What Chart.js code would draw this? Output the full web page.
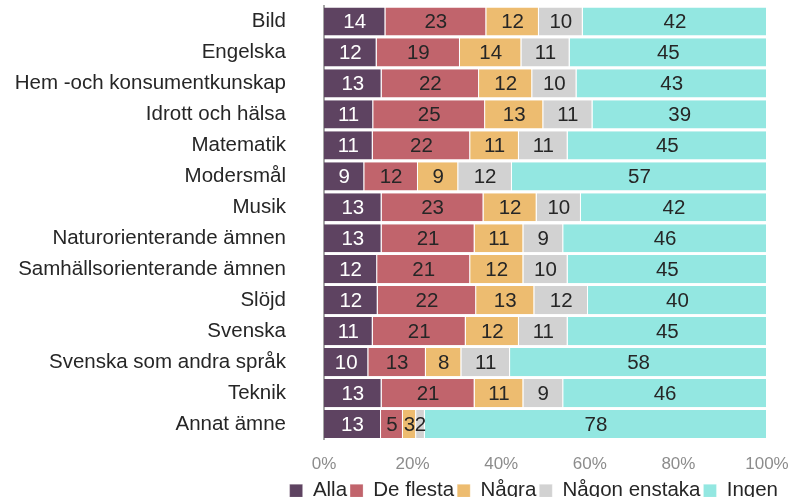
<!DOCTYPE html>
<html>
<head>
<meta charset="utf-8">
<script src="https://cdn.jsdelivr.net/npm/chart.js@4/dist/chart.umd.min.js"></script>
<style>
  html, body { margin: 0; padding: 0; background: #fff; }
  #wrap { width: 800px; height: 497px; }
</style>
</head>
<body>
<div id="wrap"><canvas id="chart"></canvas></div>
<script>
// Ämnen (kategorier)
const subjects = [
    'Bild', 'Engelska', 'Hem -och konsumentkunskap', 'Idrott och hälsa',
    'Matematik', 'Modersmål', 'Musik', 'Naturorienterande ämnen',
    'Samhällsorienterande ämnen', 'Slöjd', 'Svenska',
    'Svenska som andra språk', 'Teknik', 'Annat ämne'
];

// Andelar i procent per svarsalternativ
const alla         = [14, 12, 13, 11, 11,  9, 13, 13, 12, 12, 11, 10, 13, 13];
const deFlesta     = [23, 19, 22, 25, 22, 12, 23, 21, 21, 22, 21, 13, 21,  5];
const nagra        = [12, 14, 12, 13, 11,  9, 12, 11, 12, 13, 12,  8, 11,  3];
const nagonEnstaka = [10, 11, 10, 11, 11, 12, 10,  9, 10, 12, 11, 11,  9,  2];
const ingen        = [42, 45, 43, 39, 45, 57, 42, 46, 45, 40, 45, 58, 46, 78];

const xTicks = [0, 20, 40, 60, 80, 100];

const series = [
    { label: 'Alla',          values: alla,         color: '#5e4361', text: '#ffffff' },
    { label: 'De flesta',     values: deFlesta,     color: '#c1646c', text: '#262626' },
    { label: 'Några',         values: nagra,        color: '#edbc70', text: '#262626' },
    { label: 'Någon enstaka', values: nagonEnstaka, color: '#d2d2d2', text: '#262626' },
    { label: 'Ingen',         values: ingen,        color: '#93e7e1', text: '#262626' }
];

// 100 % staplat: normalisera varje rad så att den når 100
const totals = subjects.map((_, i) => series.reduce((s, d) => s + d.values[i], 0));

const FONT = 'Liberation Sans, Arial, sans-serif';
const FS = 20.5;

// Etiketter mitt i varje segment
const segmentLabels = {
    id: 'segmentLabels',
    afterDatasetsDraw(chart) {
        const ctx = chart.ctx;
        ctx.save();
        ctx.font = FS + 'px ' + FONT;
        ctx.textAlign = 'center';
        ctx.textBaseline = 'middle';
        chart.data.datasets.forEach((ds, di) => {
            const meta = chart.getDatasetMeta(di);
            meta.data.forEach((bar, i) => {
                const c = bar.getCenterPoint();
                ctx.fillStyle = series[di].text;
                ctx.fillText(String(series[di].values[i]), c.x, c.y + 1);
            });
        });
        ctx.restore();
    }
};

const ctx = document.getElementById('chart').getContext('2d');
const chart = new Chart(ctx, {
    type: 'bar',
    data: {
        labels: subjects,
        datasets: series.map(s => ({
            label: s.label,
            data: s.values.map((v, i) => v / totals[i] * 100),
            backgroundColor: s.color,
            borderColor: '#ffffff',
            borderWidth: { right: 1 },
            borderSkipped: false,
            barPercentage: 0.91,
            categoryPercentage: 1.0
        }))
    },
    plugins: [segmentLabels],
    options: {
        indexAxis: 'y',
        responsive: true,
        maintainAspectRatio: false,
        animation: false,
        layout: { padding: { top: 6, right: 19, bottom: -14, left: 0 } },
        scales: {
            x: {
                stacked: true,
                min: 0,
                max: 100,
                afterBuildTicks(scale) {
                    scale.ticks = xTicks.map(v => ({ value: v }));
                },
                afterFit(scale) {
                    scale.height = 38;
                    scale.paddingLeft = 0;
                    scale.paddingRight = 33;
                },
                ticks: {
                    callback: v => v + '%',
                    color: '#8c8c8c',
                    font: { family: FONT, size: 17 },
                    padding: 7,
                    minRotation: 0,
                    maxRotation: 0
                },
                grid: { display: false },
                border: { display: false }
            },
            y: {
                stacked: true,
                afterFit(scale) {
                    scale.width = 324;
                    scale.paddingTop = 0;
                    scale.paddingBottom = 0;
                },
                ticks: {
                    color: '#262626',
                    font: { family: FONT, size: FS },
                    padding: 30
                },
                grid: { display: false },
                border: { display: true, color: '#a6a6a6', width: 2 }
            }
        },
        plugins: {
            legend: {
                position: 'bottom',
                align: 'end',
                labels: {
                    boxWidth: 13,
                    boxHeight: 13,
                    padding: 3,
                    color: '#262626',
                    font: { family: FONT, size: FS }
                }
            },
            tooltip: { enabled: false }
        }
    }
});
</script>
</body>
</html>
